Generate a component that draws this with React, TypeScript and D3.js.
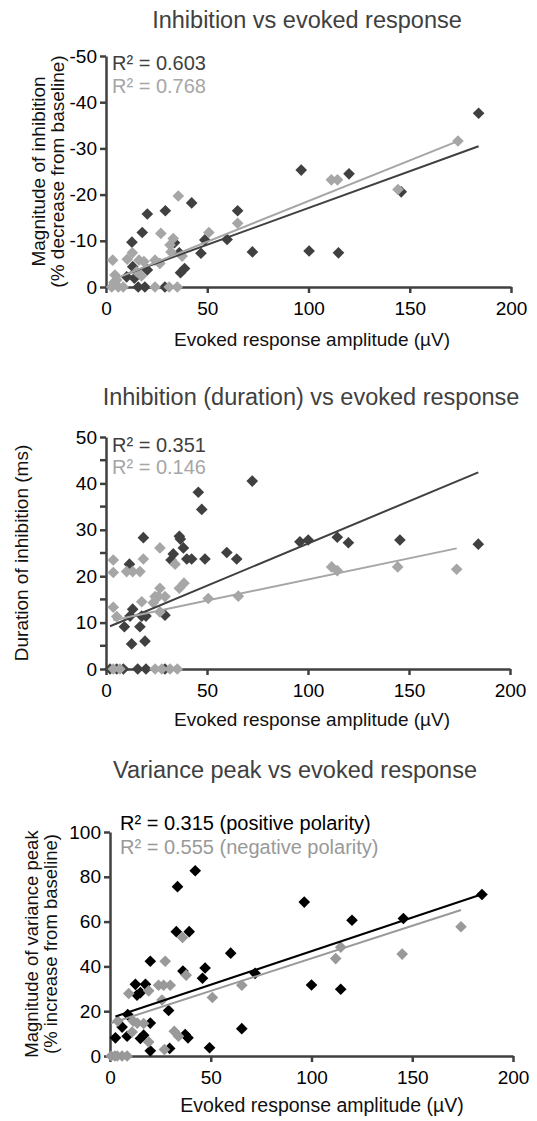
import React, { useEffect, useRef } from "react";
import * as d3 from "d3";

// ---------------- DATA ----------------
const xTicks = [0, 50, 100, 150, 200];

// Panel 1: Inhibition magnitude (negative = decrease from baseline)
const p1Title = "Inhibition vs evoked response";
const p1YTicks = [0, -10, -20, -30, -40, -50];
const p1DarkPts: [number, number][] = [
  [184, -37.6], [96.4, -25.3], [120, -24.5], [145.8, -20.6], [100.3, -7.8], [114.8, -7.4],
  [20.4, -15.8], [29.3, -16.5], [42.3, -18.2], [17.9, -11.8], [12.8, -9.7], [65, -16.5],
  [48.8, -10.2], [59.8, -10.3], [72.3, -7.6], [46.9, -7.3], [33.8, -9.6], [36.2, -7.4],
  [38.8, -4.0], [36.8, -3.1], [20.4, -3.7], [10.2, -2.2], [14, -1.9], [13.2, -4.4],
  [15.9, 0], [19.2, 0], [29.1, 0],
];
const p1GrayPts: [number, number][] = [
  [173.8, -31.6], [111.3, -23.2], [114.3, -23.2], [144.2, -21.1],
  [35.7, -19.7], [27.1, -11.6], [33.2, -10.5], [31.6, -9.1], [32.1, -7.6], [50.8, -11.8],
  [65, -13.8], [3.3, -5.8], [13, -7.4], [10.5, -6.0], [16.3, -5.8], [18.7, -5.5],
  [24.2, -5.8], [26.6, -5.1], [37.6, -6.7], [4.4, -2.6], [5.3, -1.5], [15.1, -3.3],
  [17.5, -2.4], [3.9, -1.0], [2.8, 0], [6.1, 0], [8.5, 0], [24.2, 0], [31.2, 0], [35.2, 0],
];
const p1DarkTrend: [number, number] = [-0.159, -1.2]; // slope, intercept
const p1GrayTrend: [number, number] = [-0.176, -1.0];
const p1R2 = ["R\u00B2 = 0.603", "R\u00B2 = 0.768"];
const p1YLabel = ["Magnitude of inhibition", "(% decrease from baseline)"];

// Panel 2: Inhibition duration
const p2Title = "Inhibition (duration) vs evoked response";
const p2YTicks = [0, 10, 20, 30, 40, 50];
const p2YMinor = [5, 15, 25, 35, 45];
const p2DarkPts: [number, number][] = [
  [72.4, 40.5], [45.7, 38.1], [47.4, 34.4], [18.5, 28.3], [36.3, 28.6], [36.8, 28.0],
  [38.3, 26.1], [33.3, 24.8], [32.2, 23.5], [40, 23.7], [42.4, 23.7], [49, 23.7],
  [59.8, 25.1], [64.7, 23.7], [11.6, 22.6], [13.2, 12.9], [11.9, 11.4], [17.7, 11.4],
  [19.8, 11.4], [29.2, 11.6], [9.1, 9.1], [16.8, 9.1], [12.7, 5.4], [19.3, 6.0],
  [2, 0], [5.3, 0], [8.6, 0], [15.7, 0], [19.8, 0], [29.2, 0],
  [96, 27.4], [100.1, 27.8], [114.5, 28.4], [120, 27.2], [145.5, 27.8], [184.3, 26.9],
];
const p2GrayPts: [number, number][] = [
  [111.7, 22.0], [114.5, 21.2], [144.4, 22.0], [173.6, 21.5], [50.6, 15.2], [65.5, 15.7],
  [26.7, 26.1], [3.6, 23.5], [18.5, 23.7], [34.2, 22.6], [3.6, 20.8], [10.2, 21.0],
  [13.2, 21.0], [16.8, 21.0], [26.7, 17.4], [38.6, 18.5], [36.3, 17.4], [24.3, 15.6],
  [25.9, 15.6], [29.2, 15.6], [23.4, 14.3], [17.7, 14.5], [3.6, 13.3], [5.3, 11.3],
  [26.7, 12.3], [3.6, 0], [6.9, 0], [24.3, 0], [27.6, 0], [31.7, 0], [35.3, 0],
];
const p2DarkTrend: [number, number] = [0.182, 8.85];
const p2GrayTrend: [number, number] = [0.091, 10.2];
const p2R2 = ["R\u00B2 = 0.351", "R\u00B2 = 0.146"];
const p2YLabel = ["Duration of inhibition (ms)"];

// Panel 3: Variance peak
const p3Title = "Variance peak vs evoked response";
const p3YTicks = [0, 20, 40, 60, 80, 100];
const p3BlackPts: [number, number][] = [
  [42.3, 82.7], [33.5, 75.6], [32.9, 55.5], [39.3, 55.5], [20, 42.3], [59.9, 45.9],
  [36.2, 37.9], [47.2, 39.3], [45.9, 34.7], [72, 36.9], [12.6, 32], [17.6, 32],
  [13.4, 27.2], [15.1, 28.3], [29.1, 20.3], [8.8, 18.5], [6, 12.9], [8.5, 8.8],
  [15.1, 7.8], [16.7, 9.3], [2.7, 8.1], [20, 14.7], [20, 2.3], [29.6, 3.4],
  [37.3, 9.6], [38.7, 8.1], [49.4, 3.7], [65.4, 12.2], [184.6, 72.1], [96.4, 68.7],
  [120.1, 60.6], [145.6, 61.4], [100, 31.7], [114.5, 29.8],
];
const p3GrayPts: [number, number][] = [
  [174.2, 57.7], [114.5, 48.6], [112, 43.5], [145, 45.5], [36, 52.9], [27.4, 42.3],
  [37.8, 36.1], [24.1, 31.6], [26.6, 31.6], [29.9, 31.6], [19.2, 29.1], [9.3, 27.9],
  [25.8, 25], [50.8, 26.1], [65.4, 31.6], [3.9, 15.6], [11.5, 15.6], [13.5, 14.7],
  [16.7, 14.5], [11, 10.7], [19.2, 6.3], [31.9, 11], [34, 8.8], [27, 2.9],
  [0.6, 0], [2.4, 0], [3.6, 0], [6, 0], [8.5, 0],
];
const p3BlackTrend: [number, number] = [0.3, 16.8];
const p3GrayTrend: [number, number] = [0.291, 14.5];
const p3R2 = ["R\u00B2 = 0.315 (positive polarity)", "R\u00B2 = 0.555 (negative polarity)"];
const p3YLabel = ["Magnitude of variance peak", "(% increase from baseline)"];

const xLabel = "Evoked response amplitude (\u00B5V)";

// ---------------- LAYOUT ----------------
const W = 537;
const H = 1121;
const FONT = "'Liberation Sans', Arial, Helvetica, sans-serif";
const AXIS = "#404040";

type Series = { pts: [number, number][]; color: string; trend: [number, number] };
type Panel = {
  title: string; titleX: number; titleY: number;
  x0: number; x1: number; yBottom: number; yTop: number;
  yDomain: [number, number]; yTicks: number[]; yMinor?: number[];
  series: Series[];
  r2: string[]; r2Colors: string[]; r2X: number; r2Y: number[]; r2Size: number;
  yLabel: string[]; yLabelX: number[]; yLabelSize: number;
  xLabelX: number; xLabelSize: number; xLabelDy: number;
};

const DARK = "#404040";
const LIGHT = "#a6a6a6";

const panels: Panel[] = [
  {
    title: p1Title, titleX: 307, titleY: 28,
    x0: 106, x1: 511, yBottom: 287, yTop: 56,
    yDomain: [0, -50], yTicks: p1YTicks,
    series: [
      { pts: p1DarkPts, color: DARK, trend: p1DarkTrend },
      { pts: p1GrayPts, color: LIGHT, trend: p1GrayTrend },
    ],
    r2: p1R2, r2Colors: [DARK, LIGHT], r2X: 112, r2Y: [70, 93], r2Size: 20,
    yLabel: p1YLabel, yLabelX: [38, 57], yLabelSize: 19,
    xLabelX: 312, xLabelSize: 19, xLabelDy: 59,
  },
  {
    title: p2Title, titleX: 311, titleY: 405,
    x0: 106, x1: 510, yBottom: 669, yTop: 437,
    yDomain: [0, 50], yTicks: p2YTicks, yMinor: p2YMinor,
    series: [
      { pts: p2DarkPts, color: DARK, trend: p2DarkTrend },
      { pts: p2GrayPts, color: LIGHT, trend: p2GrayTrend },
    ],
    r2: p2R2, r2Colors: [DARK, LIGHT], r2X: 112, r2Y: [452, 474], r2Size: 20,
    yLabel: p2YLabel, yLabelX: [21], yLabelSize: 19,
    xLabelX: 312, xLabelSize: 19, xLabelDy: 57,
  },
  {
    title: p3Title, titleX: 295, titleY: 778,
    x0: 110, x1: 513, yBottom: 1056, yTop: 832,
    yDomain: [0, 100], yTicks: p3YTicks,
    series: [
      { pts: p3BlackPts, color: "#000000", trend: p3BlackTrend },
      { pts: p3GrayPts, color: "#999999", trend: p3GrayTrend },
    ],
    r2: p3R2, r2Colors: ["#000000", "#999999"], r2X: 120, r2Y: [830, 854], r2Size: 20,
    yLabel: p3YLabel, yLabelX: [31, 50], yLabelSize: 18.5,
    xLabelX: 322, xLabelSize: 19.5, xLabelDy: 56,
  },
];

function drawPanel(root: d3.Selection<SVGGElement, unknown, null, undefined>, p: Panel) {
  const g = root.append("g");
  const x = d3.scaleLinear().domain([0, 200]).range([p.x0, p.x1]);
  const y = d3.scaleLinear().domain(p.yDomain).range([p.yBottom, p.yTop]);

  g.append("text")
    .attr("x", p.titleX).attr("y", p.titleY)
    .attr("text-anchor", "middle")
    .attr("font-size", 23.5).attr("fill", "#404040")
    .attr("font-family", FONT)
    .text(p.title);

  const ay = g.append("g")
    .attr("transform", `translate(${p.x0},0)`)
    .call(d3.axisLeft(y).tickValues(p.yTicks).tickSize(6).tickSizeOuter(0).tickPadding(3)
      .tickFormat((d) => `${d}`));
  if (p.yMinor) {
    ay.selectAll("line.minor").data(p.yMinor).enter().append("line")
      .attr("class", "minor")
      .attr("x1", -6).attr("x2", 0)
      .attr("y1", (d) => y(d)).attr("y2", (d) => y(d));
  }
  const ax = g.append("g")
    .attr("transform", `translate(0,${p.yBottom})`)
    .call(d3.axisBottom(x).tickValues(xTicks).tickSize(6).tickSizeOuter(0).tickPadding(9)
      .tickFormat((d) => `${d}`));

  [ax, ay].forEach((a) => {
    a.select(".domain").attr("stroke", AXIS).attr("stroke-width", 2.5);
    a.selectAll("line").attr("stroke", AXIS).attr("stroke-width", 2.5);
    a.selectAll("text").attr("font-size", 19).attr("font-family", FONT).attr("fill", "#000");
  });

  const sym = d3.symbol().type(d3.symbolSquare).size(68);
  p.series.forEach((s) => {
    g.append("g").selectAll("path").data(s.pts).enter().append("path")
      .attr("d", sym() as string)
      .attr("transform", (d) => `translate(${x(d[0])},${y(d[1])}) rotate(45)`)
      .attr("fill", s.color);
  });

  p.series.forEach((s) => {
    const xs = s.pts.map((d) => d[0]);
    const ext = d3.extent(xs) as [number, number];
    const line = d3.line<number>().x((v) => x(v)).y((v) => y(s.trend[0] * v + s.trend[1]));
    g.append("path").attr("d", line(ext) as string)
      .attr("fill", "none").attr("stroke", s.color).attr("stroke-width", 2);
  });

  p.r2.forEach((t, i) => {
    g.append("text").attr("x", p.r2X).attr("y", p.r2Y[i])
      .attr("font-size", p.r2Size).attr("font-family", FONT).attr("fill", p.r2Colors[i])
      .text(t);
  });

  const cy = (p.yBottom + p.yTop) / 2;
  p.yLabel.forEach((t, i) => {
    g.append("text")
      .attr("transform", `translate(${p.yLabelX[i]},${cy}) rotate(-90)`)
      .attr("text-anchor", "middle").attr("dominant-baseline", "central")
      .attr("font-size", p.yLabelSize).attr("font-family", FONT).attr("fill", "#111")
      .text(t);
  });

  g.append("text")
    .attr("x", p.xLabelX).attr("y", p.yBottom + p.xLabelDy)
    .attr("text-anchor", "middle")
    .attr("font-size", p.xLabelSize).attr("font-family", FONT).attr("fill", "#111")
    .text(xLabel);
}

export default function App() {
  const ref = useRef<SVGSVGElement>(null);
  useEffect(() => {
    const svg = d3.select(ref.current);
    svg.selectAll("*").remove();
    const root = svg.append("g") as unknown as d3.Selection<SVGGElement, unknown, null, undefined>;
    panels.forEach((p) => drawPanel(root, p));
  }, []);
  return (
    <svg
      ref={ref}
      width={W}
      height={H}
      style={{ position: "absolute", left: 0, top: 0, background: "#fff" }}
    />
  );
}
